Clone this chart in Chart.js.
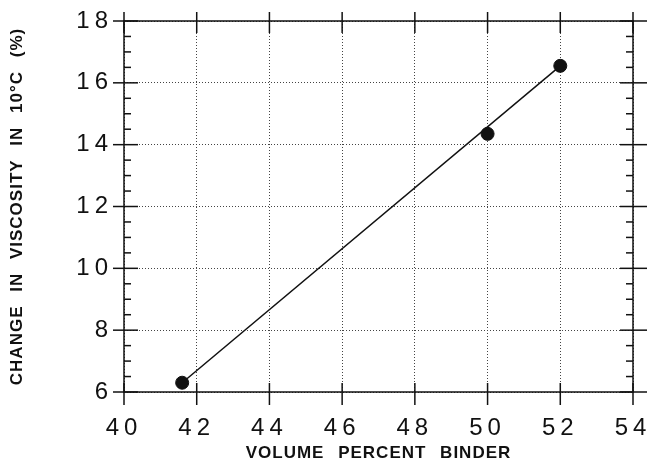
<!DOCTYPE html>
<html>
<head>
<meta charset="utf-8">
<script src="https://cdn.jsdelivr.net/npm/chart.js@4.4.1/dist/chart.umd.min.js"></script>
<style>
  html, body { margin: 0; padding: 0; background: #fff; }
  #wrap { width: 647px; height: 462px; }
</style>
</head>
<body>
<div id="wrap"><canvas id="chart"></canvas></div>
<script>
// measured points
const binder = [41.6, 50, 52];
const viscChange = [6.3, 14.35, 16.55];
// drawn line (end to end)
const lineX = [41.6, 52];
const lineY = [6.3, 16.55];

const xMin = 40, xMax = 54, xStep = 2;
const yMin = 6, yMax = 18, yStep = 2, yMinorStep = 0.5;

const ink = '#111';

// ticks that cross the frame, minor ticks inward, and letter spacing for labels
const frame = {
  id: 'frame',
  beforeDraw(chart) {
    chart.ctx.letterSpacing = '1px';
    chart.ctx.wordSpacing = '8px';
  },
  afterDatasetsDraw(chart) {
    chart.ctx.letterSpacing = '5px';
    chart.ctx.wordSpacing = '0px';
  },
  afterDraw(chart) {
    const { ctx, chartArea: a, scales: { x, y } } = chart;
    ctx.letterSpacing = '0px';
    ctx.save();
    ctx.strokeStyle = ink;
    ctx.lineWidth = 1.5;
    const seg = (x1, y1, x2, y2) => {
      ctx.beginPath(); ctx.moveTo(x1, y1); ctx.lineTo(x2, y2); ctx.stroke();
    };
    ctx.strokeRect(a.left, a.top, a.right - a.left, a.bottom - a.top);
    x.ticks.forEach(t => {
      const px = x.getPixelForValue(t.value);
      seg(px, a.bottom - 9, px, a.bottom + 13);
      seg(px, a.top - 9, px, a.top + 12);
    });
    y.ticks.forEach(t => {
      const py = y.getPixelForValue(t.value);
      seg(a.left - 11, py, a.left + 14, py);
      seg(a.right - 13, py, a.right + 14, py);
    });
    for (let v = yMin; v <= yMax; v += yMinorStep) {
      if (v % yStep === 0) continue;
      const py = y.getPixelForValue(v);
      seg(a.left, py, a.left + 7, py);
      seg(a.right - 7, py, a.right, py);
    }
    ctx.restore();
  }
};

const ctx = document.getElementById('chart').getContext('2d');
const chart = new Chart(ctx, {
  type: 'scatter',
  data: {
    datasets: [
      {
        data: binder.map((b, i) => ({ x: b, y: viscChange[i] })),
        backgroundColor: ink,
        borderColor: ink,
        pointRadius: 6.5,
        showLine: false,
        order: 1
      },
      {
        data: lineX.map((b, i) => ({ x: b, y: lineY[i] })),
        borderColor: ink,
        borderWidth: 1.5,
        pointRadius: 0,
        showLine: true,
        order: 2
      }
    ]
  },
  options: {
    responsive: true,
    maintainAspectRatio: false,
    animation: false,
    layout: { padding: { left: 0, top: 21, right: 14, bottom: 0 } },
    plugins: { legend: { display: false }, tooltip: { enabled: false } },
    scales: {
      x: {
        type: 'linear',
        min: xMin, max: xMax,
        afterFit: s => { s.height = 70; s.paddingLeft = 0; s.paddingRight = 0; },
        ticks: { stepSize: xStep, z: 1, padding: 22, color: ink,
                 font: { family: 'Liberation Sans', size: 24 } },
        grid: { color: '#444', lineWidth: 1, drawTicks: false },
        border: { display: false, dash: [1, 2] },
        title: { display: true, text: 'VOLUME PERCENT BINDER', color: ink,
                 padding: { top: 0, bottom: -2 },
                 font: { family: 'Liberation Sans', size: 17, weight: 'bold' } }
      },
      y: {
        type: 'linear',
        min: yMin, max: yMax,
        afterFit: s => { s.width = 124; s.paddingTop = 0; s.paddingBottom = 0; },
        ticks: { stepSize: yStep, z: 1, padding: 11, color: ink,
                 font: { family: 'Liberation Sans', size: 24 } },
        grid: { color: '#444', lineWidth: 1, drawTicks: false },
        border: { display: false, dash: [1, 2] },
        title: { display: true, text: 'CHANGE IN VISCOSITY IN 10°C (%)', color: ink,
                 padding: { top: 7, bottom: 0 },
                 font: { family: 'Liberation Sans', size: 17, weight: 'bold' } }
      }
    }
  },
  plugins: [frame]
});
</script>
</body>
</html>
